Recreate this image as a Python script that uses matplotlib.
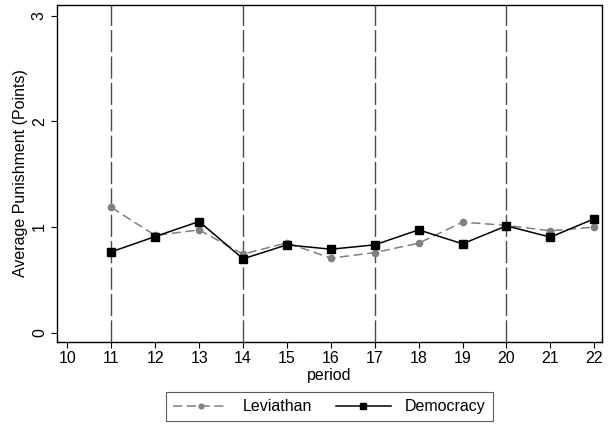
import matplotlib
matplotlib.use("Agg")
import matplotlib.pyplot as plt

plt.rcParams['font.family'] = ['Liberation Sans', 'DejaVu Sans']

periods = [11, 12, 13, 14, 15, 16, 17, 18, 19, 20, 21, 22]
leviathan = [1.185, 0.92, 0.973, 0.743, 0.85, 0.705, 0.758, 0.847, 1.046, 1.015, 0.964, 0.999]
democracy = [0.765, 0.91, 1.052, 0.699, 0.831, 0.79, 0.831, 0.973, 0.841, 1.011, 0.904, 1.078]
block_starts = [11, 14, 17, 20]
x_ticks = list(range(10, 23))
y_ticks = [0, 1, 2, 3]

FS = 11.5

fig = plt.figure(figsize=(6.09, 4.26), dpi=100)
ax = fig.add_axes([0.0941, 0.198, 0.894, 0.790])

for xv in block_starts:
    ax.axvline(xv, color='#4d4d4d', lw=1.0, dashes=(16, 3), zorder=1)

ax.plot(periods, leviathan, color='#808080', lw=1.1, dashes=(6, 3),
        marker='o', ms=4.5, label='Leviathan', zorder=2)
ax.plot(periods, democracy, color='black', lw=1.1,
        marker='s', ms=6, label='Democracy', zorder=3)

ax.set_xlim(9.77, 22.17)
ax.set_ylim(-0.085, 3.1)
ax.set_xticks(x_ticks)
ax.set_yticks(y_ticks)
ax.tick_params(axis='both', direction='out', length=4.5, width=0.8, labelsize=FS)
ax.tick_params(axis='x', pad=2.5)
ax.tick_params(axis='y', pad=3)
for lbl in ax.get_yticklabels():
    lbl.set_rotation(90)
    lbl.set_va('center')
ax.set_xlabel('period', fontsize=FS, labelpad=1)
ax.set_ylabel('Average Punishment (Points)', fontsize=FS, labelpad=2.5)

for sp in ax.spines.values():
    sp.set_linewidth(1.0)

leg = fig.legend(loc='center', bbox_to_anchor=(0.541, 0.0455), ncol=2,
                 frameon=True, fancybox=False, edgecolor='#333333',
                 fontsize=FS, handlelength=3.45, columnspacing=1.5,
                 borderpad=0.42, handletextpad=0.9, markerscale=0.75)
leg.get_frame().set_linewidth(0.8)

fig.savefig('out.png', dpi=100)
